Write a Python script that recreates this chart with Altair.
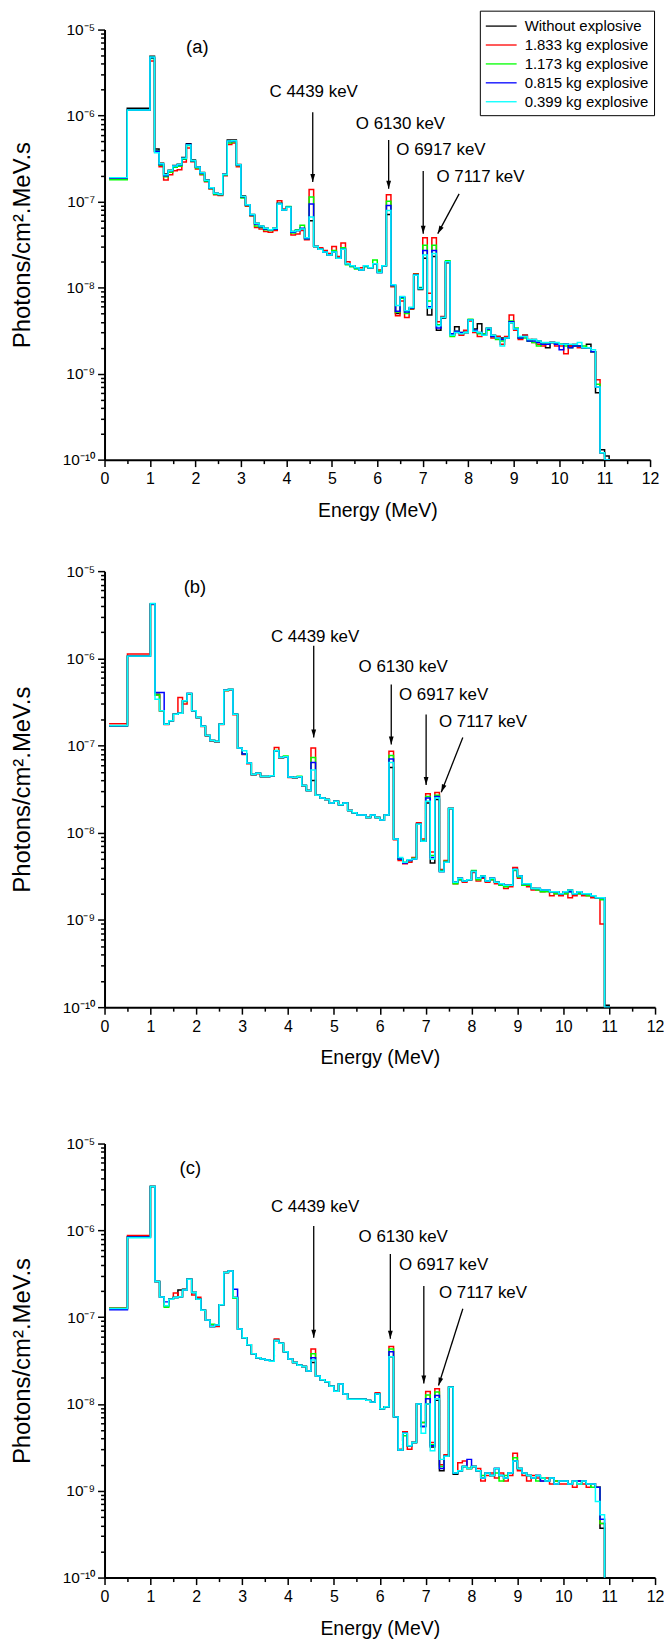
import altair as alt
import pandas as pd

SERIES = ["Without explosive", "1.833 kg explosive", "1.173 kg explosive",
          "0.815 kg explosive", "0.399 kg explosive"]
COLORS = ["#000000", "#ff0000", "#00ff00", "#0000ff", "#00ffff"]

# bin edges (MeV): 0.1-0.5, 0.5-1.0, then 0.1 MeV bins up to 11.2
EDGES = [0.1, 0.5] + [round(1.0 + 0.1 * i, 1) for i in range(103)]

# flux values in units of 1e-9 photons/cm2.MeV.s, one value per bin
A_BLACK = [188, 1220,
           4900, 410, 280, 210, 232, 262, 272, 325, 470, 305,
           255, 218, 178, 145, 125, 122, 208, 520, 520, 270,
           116, 92, 71, 56, 52, 49, 47, 49, 95, 80,
           86, 45, 46, 48, 38, 60, 30, 28, 26, 24,
           26, 22, 28, 19, 18, 17, 16, 18, 17, 19,
           15, 18, 71, 10.7, 5.0, 7.8, 5.4, 5.8, 13.9, 9.5,
           22, 4.8, 23, 3.2, 4.4, 19.5, 2.8, 3.5, 2.9, 3.0,
           4.2, 3.3, 3.8, 2.8, 3.4, 2.8, 2.7, 2.6, 2.6, 3.9,
           3.3, 2.6, 2.8, 2.4, 2.5, 2.4, 2.2, 2.0, 2.3, 2.2,
           2.2, 2.2, 2.1, 2.1, 2.1, 2.0, 2.2, 1.8, 0.6, 0.13,
           0.11, 0.09]
A_RED = [188, 1150,
         4300, 380, 255, 178, 205, 228, 235, 288, 420, 290,
         240, 205, 170, 140, 120, 118, 200, 460, 480, 255,
         112, 88, 68, 50, 48, 45, 44, 46, 102, 82,
         86, 41, 42, 46, 36, 138, 30, 29, 27, 25,
         30, 23, 33, 20, 18, 17, 17, 18, 17, 19,
         16, 18, 120, 10.2, 4.7, 7.0, 4.5, 5.6, 14.5, 9.8,
         38, 8.6, 38, 4.0, 4.6, 20, 2.9, 3.0, 2.8, 3.2,
         4.1, 3.0, 2.7, 2.9, 3.3, 2.6, 2.7, 2.2, 2.7, 4.8,
         3.2, 2.5, 2.8, 2.5, 2.3, 2.2, 2.1, 2.2, 2.3, 2.1,
         2.1, 1.7, 2.1, 2.2, 2.0, 2.0, 2.0, 1.8, 0.85, 0.12,
         0.1, 0.09]
A_GREEN = [180, 1150,
           4600, 390, 265, 195, 220, 250, 258, 310, 450, 295,
           245, 210, 172, 142, 122, 120, 204, 480, 495, 262,
           110, 90, 69, 52, 50, 47, 46, 48, 96, 80,
           88, 43, 47, 53, 37, 113, 30, 28, 26, 24,
           27, 22, 29, 18.5, 17.5, 16.5, 16, 17.5, 17, 21,
           15.5, 18, 101, 10.5, 5.2, 7.5, 5.0, 5.7, 14.2, 10,
           31, 7.0, 31, 3.7, 4.5, 20.5, 2.7, 3.1, 3.0, 3.0,
           4.3, 3.1, 2.9, 2.9, 3.2, 2.7, 2.5, 2.4, 2.6, 4.1,
           3.4, 2.6, 2.6, 2.4, 2.3, 2.1, 2.2, 2.2, 2.3, 2.2,
           2.2, 2.1, 2.0, 2.1, 2.1, 2.1, 2.0, 1.8, 0.75, 0.12,
           0.1, 0.09]
A_BLUE = [188, 1160,
          4700, 385, 270, 200, 228, 258, 266, 318, 460, 298,
          250, 214, 176, 144, 124, 121, 206, 500, 505, 266,
          114, 91, 70, 55, 51, 48, 47, 48, 95, 80,
          86, 44, 46, 49, 37, 94, 30, 28, 26, 24,
          26, 22, 28, 19, 18, 17, 16, 18, 17, 19,
          15, 18, 90, 10.6, 5.3, 7.7, 5.2, 5.8, 14, 9.8,
          27, 6.0, 27, 3.4, 4.5, 20, 2.9, 3.1, 3.0, 3.0,
          4.2, 3.2, 3.0, 2.8, 3.3, 2.7, 2.6, 2.5, 2.6, 4.0,
          3.3, 2.6, 2.7, 2.4, 2.4, 2.3, 2.2, 2.2, 2.3, 2.2,
          1.9, 2.2, 2.0, 2.1, 2.1, 2.0, 2.0, 1.8, 0.7, 0.12,
          0.1, 0.09]
A_CYAN = [190, 1160,
          4800, 370, 275, 205, 230, 260, 270, 320, 455, 300,
          252, 216, 177, 145, 125, 122, 207, 505, 510, 268,
          115, 92, 71, 56, 52, 49, 47, 49, 94, 80,
          86, 45, 46, 48, 38, 66, 30, 28, 26, 24,
          26, 22, 28, 19, 18, 17, 16, 18, 17, 19,
          15, 18, 79, 10.8, 6.2, 7.9, 5.4, 5.9, 13.9, 9.7,
          24, 5.8, 25, 3.6, 4.5, 20, 2.8, 3.0, 2.9, 3.0,
          4.2, 3.1, 3.0, 2.8, 3.4, 2.8, 2.6, 2.1, 2.6, 3.9,
          3.3, 2.7, 2.7, 2.5, 2.5, 2.4, 2.3, 2.3, 2.3, 2.3,
          2.2, 2.2, 2.2, 2.2, 2.3, 2.0, 2.0, 1.9, 0.7, 0.12,
          0.1, 0.09]

B_BLACK = [169, 1060,
           4200, 387, 250, 176, 192, 229, 235, 326, 394, 250,
           210, 166, 130, 114, 111, 176, 430, 440, 229, 94,
           80, 63, 46.6, 48, 44.2, 44.2, 45, 87, 73, 74.5,
           43.5, 43, 44, 34.8, 30.5, 39.8, 27, 25, 24, 22,
           23, 21, 22, 18, 17, 16, 16, 15, 16, 15,
           14, 16, 56, 8.5, 5.0, 4.5, 4.8, 5.0, 12.5, 8.0,
           22, 4.5, 24, 3.6, 4.6, 19, 2.7, 3.0, 2.8, 2.9,
           3.6, 3.0, 3.2, 2.8, 3.0, 2.7, 2.6, 2.5, 2.5, 3.8,
           3.2, 2.6, 2.6, 2.3, 2.3, 2.2, 2.2, 2.1, 2.1, 2.0,
           2.1, 2.2, 2.0, 2.1, 2.0, 2.0, 1.9, 1.8, 1.8, 0.105,
           0.05, 0.05]
B_RED = [178, 1120,
         4150, 380, 248, 174, 190, 230, 355, 300, 390, 248,
         208, 165, 129, 113, 110, 174, 425, 435, 226, 93,
         79, 62, 46, 47.5, 44, 44, 44.5, 95, 72, 74,
         43, 42.5, 44, 34.5, 30.5, 94, 27, 25, 24, 22,
         23, 21, 22, 18, 17, 16, 16, 15, 16, 15,
         14, 16, 86, 8.3, 4.8, 4.4, 4.6, 5.2, 13, 8.5,
         28, 6.0, 29, 3.8, 4.8, 19, 2.6, 2.9, 2.7, 2.9,
         3.5, 2.8, 3.0, 2.7, 2.9, 2.6, 2.5, 2.3, 2.4, 4.0,
         3.0, 2.5, 2.4, 2.2, 2.2, 2.1, 2.2, 1.9, 2.0, 1.9,
         2.0, 1.8, 1.9, 2.0, 1.9, 1.9, 1.8, 1.8, 0.9, 0.05,
         0.05, 0.05]
B_GREEN = [169, 1060,
           4200, 380, 250, 176, 192, 229, 235, 320, 392, 250,
           210, 166, 130, 114, 111, 176, 428, 440, 229, 94,
           80, 63, 46.6, 48, 44.2, 44.2, 45, 88, 73, 76,
           43.5, 43, 44.5, 34.8, 30.5, 73, 27, 25, 24, 22,
           23, 21, 22, 18, 17, 16, 16, 15, 16, 15,
           14, 16, 77, 8.5, 5.0, 4.6, 4.8, 5.1, 12.5, 8.2,
           26, 5.5, 27, 3.7, 4.7, 19, 2.6, 2.9, 2.8, 2.9,
           3.7, 2.9, 3.1, 2.8, 2.9, 2.7, 2.5, 2.4, 2.5, 3.7,
           3.1, 2.5, 2.5, 2.3, 2.2, 2.1, 2.1, 2.1, 2.0, 2.0,
           2.0, 2.1, 2.0, 2.0, 2.0, 1.9, 1.9, 1.8, 1.7, 0.1,
           0.05, 0.05]
B_BLUE = [169, 1060,
          4200, 405, 405, 176, 192, 229, 235, 326, 394, 250,
          210, 166, 130, 114, 111, 176, 430, 440, 229, 94,
          80, 63, 46.6, 48, 44.2, 44.2, 45, 87, 73, 74.5,
          43.5, 43, 44, 34.8, 30.5, 64, 27, 25, 24, 22,
          23, 21, 22, 18, 17, 16, 16, 15, 16, 15,
          14, 16, 70, 8.5, 5.0, 4.5, 4.8, 5.0, 12.5, 8.0,
          25, 5.2, 26, 3.6, 4.6, 19, 2.7, 3.0, 2.8, 2.9,
          3.6, 3.0, 3.1, 2.8, 3.0, 2.7, 2.6, 2.5, 2.5, 3.8,
          3.2, 2.6, 2.6, 2.3, 2.3, 2.2, 2.2, 2.1, 2.1, 2.0,
          2.1, 2.1, 2.0, 2.1, 2.0, 2.0, 1.9, 1.8, 1.8, 0.1,
          0.05, 0.05]
B_CYAN = [170, 1060,
          4250, 340, 250, 176, 192, 229, 235, 326, 394, 250,
          210, 166, 130, 114, 111, 176, 430, 440, 229, 94,
          87, 63, 46.6, 48, 44.2, 44.2, 45, 87, 73, 74.5,
          43.5, 43, 44, 34.8, 30.5, 52.5, 27, 25, 24, 22,
          23, 21, 22, 18, 17, 16, 16, 15, 16, 15,
          14, 16, 64, 8.5, 5.2, 4.6, 4.9, 5.0, 12.5, 8.0,
          23, 5.0, 25, 3.6, 4.6, 19, 2.7, 3.0, 2.8, 2.9,
          3.6, 3.0, 3.2, 2.8, 3.0, 2.7, 2.6, 2.5, 2.5, 3.8,
          3.2, 2.6, 2.6, 2.3, 2.3, 2.2, 2.2, 2.1, 2.1, 2.0,
          2.1, 2.2, 2.0, 2.1, 2.0, 2.0, 1.9, 1.8, 1.8, 0.1,
          0.05, 0.05]

C_BLACK = [126, 836,
           3210, 257, 171, 135, 161, 168, 205, 210, 274, 192,
           161, 120, 93, 78, 81, 139, 326, 340, 168, 73,
           58, 48, 38, 34, 33, 32, 31, 54, 50, 40,
           33, 30, 28, 27, 24, 30, 21, 19, 18, 16,
           14, 17, 13, 11.3, 11.3, 11.3, 11.3, 11.0, 10.5, 13,
           8.8, 9.3, 35, 7.1, 2.95, 4.6, 3.3, 3.6, 10, 5.5,
           10, 3.2, 11, 1.7, 2.5, 15.6, 1.55, 1.7, 1.9, 1.8,
           1.9, 1.7, 1.4, 1.6, 1.5, 1.8, 1.5, 1.4, 1.6, 2.2,
           1.8, 1.6, 1.5, 1.4, 1.5, 1.4, 1.3, 1.4, 1.2, 1.3,
           1.3, 1.2, 1.3, 1.2, 1.3, 1.2, 1.2, 1.1, 0.37, 0.05,
           0.05, 0.05]
C_RED = [128, 870,
         3200, 257, 171, 135, 161, 190, 172, 205, 274, 180,
         170, 120, 93, 78, 78, 139, 326, 340, 168, 73,
         58, 48, 38, 34, 33, 32, 31, 56, 50, 40,
         33, 30, 28, 27, 24, 43, 21, 19, 18, 16,
         14, 17, 13, 11.3, 11.3, 11.3, 11.3, 11.0, 10.5, 13.5,
         8.8, 9.3, 46, 7.1, 3.0, 4.8, 3.0, 3.6, 10, 6.1,
         13.9, 3.6, 15, 2.0, 2.6, 15.6, 1.6, 2.1, 2.2, 1.8,
         1.9, 1.8, 1.3, 1.5, 1.6, 1.4, 1.6, 1.3, 1.5, 2.7,
         1.7, 1.5, 1.3, 1.5, 1.4, 1.3, 1.4, 1.2, 1.3, 1.2,
         1.2, 1.2, 1.1, 1.3, 1.2, 1.1, 1.2, 1.1, 0.42, 0.05,
         0.05, 0.05]
C_GREEN = [127, 836,
           3210, 257, 171, 130, 161, 168, 172, 205, 274, 192,
           161, 120, 93, 83, 81, 139, 326, 340, 165, 73,
           58, 48, 38, 34, 33, 32, 31, 54, 50, 40,
           33, 30, 28, 27, 24, 38, 21, 19, 18, 16,
           14, 17, 13, 11.3, 11.3, 11.3, 11.3, 11.0, 10.5, 13,
           8.8, 9.3, 43, 7.1, 2.95, 4.3, 3.3, 3.6, 10, 6.1,
           12.7, 3.4, 13.7, 1.9, 2.5, 15.6, 1.6, 1.7, 1.9, 1.8,
           1.9, 1.7, 1.5, 1.6, 1.5, 1.6, 1.3, 1.5, 1.6, 2.4,
           1.8, 1.6, 1.5, 1.4, 1.3, 1.4, 1.3, 1.4, 1.3, 1.3,
           1.3, 1.2, 1.3, 1.2, 1.3, 1.2, 1.1, 1.1, 0.42, 0.05,
           0.05, 0.05]
C_BLUE = [122, 836,
          3210, 257, 171, 150, 161, 168, 172, 205, 274, 192,
          161, 120, 93, 78, 81, 139, 326, 340, 210, 73,
          58, 48, 38, 34, 33, 32, 31, 54, 50, 40,
          33, 30, 28, 27, 24, 34, 21, 19, 18, 16,
          14, 17, 13, 11.3, 11.3, 11.3, 11.3, 11.0, 10.5, 13,
          8.8, 9.3, 40, 7.1, 2.95, 4.6, 3.3, 3.6, 10, 5.5,
          11.5, 3.3, 12.5, 1.8, 2.5, 15.6, 1.6, 1.7, 1.9, 2.3,
          1.9, 1.7, 1.4, 1.6, 1.5, 1.8, 1.5, 1.4, 1.6, 2.2,
          1.8, 1.6, 1.5, 1.4, 1.5, 1.3, 1.3, 1.4, 1.2, 1.3,
          1.3, 1.2, 1.3, 1.3, 1.3, 1.2, 1.2, 1.1, 0.47, 0.05,
          0.05, 0.05]
C_CYAN = [126, 820,
          3210, 257, 171, 135, 161, 168, 172, 205, 274, 192,
          161, 120, 93, 78, 81, 139, 326, 340, 168, 73,
          58, 48, 38, 34, 33, 32, 31, 54, 50, 40,
          33, 30, 28, 27, 24, 32, 21, 19, 18, 16,
          14, 17, 13, 11.3, 11.3, 11.3, 11.3, 11.0, 10.5, 13,
          8.8, 9.3, 35, 7.1, 2.95, 4.6, 3.3, 3.6, 10, 4.6,
          10, 2.9, 11.5, 2.3, 2.5, 15.6, 1.6, 1.7, 1.9, 1.8,
          1.9, 1.7, 1.4, 1.6, 1.5, 1.8, 1.5, 1.4, 1.6, 2.2,
          1.8, 1.6, 1.5, 1.4, 1.5, 1.4, 1.3, 1.4, 1.2, 1.3,
          1.3, 1.2, 1.3, 1.2, 1.3, 1.2, 1.2, 0.75, 0.53, 0.05,
          0.05, 0.05]

# annotations (energy in MeV, flux in photons/cm2.MeV.s)
ANNOT_TEXT = ["C 4439 keV", "O 6130 keV", "O 6917 keV", "O 7117 keV"]

A_LABEL = ("(a)", 2.04, 6.27e-6)
A_TEXT_E = [4.60, 6.51, 7.40, 8.27]
A_TEXT_V = [1.87e-6, 8.05e-7, 3.93e-7, 1.94e-7]
A_ARROW_E1 = [4.58, 6.25, 7.01, 7.80]
A_ARROW_V1 = [1.09e-6, 5.19e-7, 2.27e-7, 1.23e-7]
A_ARROW_E2 = [4.58, 6.25, 7.01, 7.33]
A_ARROW_V2 = [1.69e-7, 1.41e-7, 4.24e-8, 4.24e-8]
A_ARROW_ANG = [0, 0, 0, 28]

B_LABEL = ("(b)", 1.97, 6.57e-6)
B_TEXT_E = [4.59, 6.51, 7.39, 8.25]
B_TEXT_V = [1.77e-6, 8.02e-7, 3.84e-7, 1.87e-7]
B_ARROW_E1 = [4.56, 6.25, 7.01, 7.81]
B_ARROW_V1 = [1.39e-6, 5.0e-7, 2.27e-7, 1.24e-7]
B_ARROW_E2 = [4.56, 6.25, 7.01, 7.34]
B_ARROW_V2 = [1.24e-7, 1.03e-7, 3.52e-8, 2.92e-8]
B_ARROW_ANG = [0, 0, 0, 21.5]

C_LABEL = ("(c)", 1.87, 5.16e-6)
C_TEXT_E = [4.59, 6.51, 7.39, 8.25]
C_TEXT_V = [1.85e-6, 8.36e-7, 3.94e-7, 1.91e-7]
C_ARROW_E1 = [4.56, 6.23, 6.96, 7.81]
C_ARROW_V1 = [1.12e-6, 5.33e-7, 2.29e-7, 1.25e-7]
C_ARROW_E2 = [4.56, 6.23, 6.96, 7.28]
C_ARROW_V2 = [5.81e-8, 5.65e-8, 1.72e-8, 1.63e-8]
C_ARROW_ANG = [0, 0, 0, 17.6]

X_TICKS = [i * 0.5 for i in range(25)]
Y_TICKS = [m * 10.0 ** e for e in range(-10, -5) for m in range(1, 10)] + [1e-5]

FONT = "Liberation Sans, Arial, sans-serif"
ARROW = "M -0.3 -1 L 0.3 -1 L 0 0 Z"
LEGEND_LINE = "M -1 0 L 2.26 0"

MAJOR = "abs(log(datum.value)/LN10 - round(log(datum.value)/LN10)) < 0.01"
SUP = "['⁰','¹','²','³','⁴','⁵','⁶','⁷','⁸','⁹','¹⁰']"

XAXIS = alt.Axis(
    values=X_TICKS, title="Energy (MeV)", grid=False,
    labelExpr="datum.value % 1 == 0 ? format(datum.value, 'd') : ''",
    tickSize={"condition": {"test": "datum.value % 1 == 0", "value": 7}, "value": 4},
    tickWidth=1.5, tickColor="black", domainColor="black", domainWidth=2,
    labelFont=FONT, labelFontSize=16, labelColor="black", labelPadding=4,
    labelFlush=False, labelOverlap=False,
    titleFont=FONT, titleFontSize=19.5, titleFontWeight="normal",
    titleColor="black", titlePadding=15,
)
YAXIS = alt.Axis(
    values=Y_TICKS, title="Photons/cm².MeV.s", grid=False,
    labelExpr=f"{MAJOR} ? '10⁻' + {SUP}[-round(log(datum.value)/LN10)] : ''",
    tickSize={"condition": {"test": MAJOR, "value": 7}, "value": 4},
    tickWidth=1.5, tickColor="black", domainColor="black", domainWidth=2,
    labelFont=FONT, labelFontSize=15.5, labelColor="black", labelPadding=3,
    labelOverlap=False, labelFlush=False,
    titleFont=FONT, titleFontSize=24, titleFontWeight="normal",
    titleColor="black", titlePadding=28,
)

LEGEND = alt.Legend(
    orient="none", legendX=377, legendY=-19, title=None,
    symbolType=LEGEND_LINE, symbolSize=361, symbolStrokeWidth=1.3,
    labelFont=FONT, labelFontSize=15, labelColor="black",
    labelOffset=19, rowPadding=0, padding=5,
    strokeColor="black", fillColor="white",
)


def panel(series_vals, width, height, label, text_e, text_v,
          e1, v1, e2, v2, ang, with_legend):
    rows = []
    for name, vals in zip(SERIES, series_vals):
        for i, val in enumerate(vals):
            rows.append({"series": name, "E": EDGES[i], "v": val * 1e-9})
        rows.append({"series": name, "E": EDGES[len(vals)], "v": vals[-1] * 1e-9})
    df = pd.DataFrame(rows)

    xs = alt.Scale(domain=[0, 12], nice=False)
    ys = alt.Scale(type="log", domain=[1e-10, 1e-5], nice=False)

    def X(f):
        return alt.X(f, type="quantitative", scale=xs, axis=XAXIS)

    def Y(f):
        return alt.Y(f, type="quantitative", scale=ys, axis=YAXIS)

    layers = []
    for name, col in zip(SERIES, COLORS):
        if with_legend:
            color = alt.Color("series:N", scale=alt.Scale(domain=SERIES, range=COLORS),
                              legend=LEGEND)
        else:
            color = alt.value(col)
        layers.append(
            alt.Chart(df).transform_filter(alt.datum.series == name)
            .mark_line(interpolate="step-after", clip=True, strokeWidth=1.5)
            .encode(x=X("E"), y=Y("v"), color=color)
        )

    arr = pd.DataFrame({"E": e1, "v": v1, "E2": e2, "v2": v2, "ang": ang})
    rule = alt.Chart(arr).mark_rule(color="black", strokeWidth=1.3).encode(
        x=X("E"), y=Y("v"), x2="E2:Q", y2="v2:Q")
    head = alt.Chart(arr).mark_point(
        shape=ARROW, filled=True, color="black", size=256, opacity=1, strokeWidth=0
    ).encode(x=X("E2"), y=Y("v2"), angle=alt.Angle("ang:Q", scale=None))

    ann = pd.DataFrame({"E": text_e, "v": text_v, "t": ANNOT_TEXT})
    txt = alt.Chart(ann).mark_text(
        font=FONT, fontSize=17, color="black", align="center", baseline="middle"
    ).encode(x=X("E"), y=Y("v"), text="t:N")

    lab = pd.DataFrame({"E": [label[1]], "v": [label[2]], "t": [label[0]]})
    labt = alt.Chart(lab).mark_text(
        font=FONT, fontSize=18.5, color="black", align="center", baseline="middle"
    ).encode(x=X("E"), y=Y("v"), text="t:N")

    return alt.layer(*layers, rule, head, txt, labt).properties(width=width, height=height)


pa = panel([A_BLACK, A_RED, A_GREEN, A_BLUE, A_CYAN], 548, 432, A_LABEL,
           A_TEXT_E, A_TEXT_V, A_ARROW_E1, A_ARROW_V1, A_ARROW_E2, A_ARROW_V2,
           A_ARROW_ANG, True)
pb = panel([B_BLACK, B_RED, B_GREEN, B_BLUE, B_CYAN], 553, 438, B_LABEL,
           B_TEXT_E, B_TEXT_V, B_ARROW_E1, B_ARROW_V1, B_ARROW_E2, B_ARROW_V2,
           B_ARROW_ANG, False)
pc = panel([C_BLACK, C_RED, C_GREEN, C_BLUE, C_CYAN], 553, 436, C_LABEL,
           C_TEXT_E, C_TEXT_V, C_ARROW_E1, C_ARROW_V1, C_ARROW_E2, C_ARROW_V2,
           C_ARROW_ANG, False)

top = alt.vconcat(pa, pb, spacing=44).resolve_scale(color="independent")
chart = (
    alt.vconcat(top, pc, spacing=69)
    .resolve_scale(color="independent")
    .configure_view(strokeWidth=0)
    .properties(padding={"left": 10, "top": 6, "right": 0, "bottom": 0},
                background="white")
)

chart.save("out.html", embed_options={"renderer": "svg", "actions": False})
